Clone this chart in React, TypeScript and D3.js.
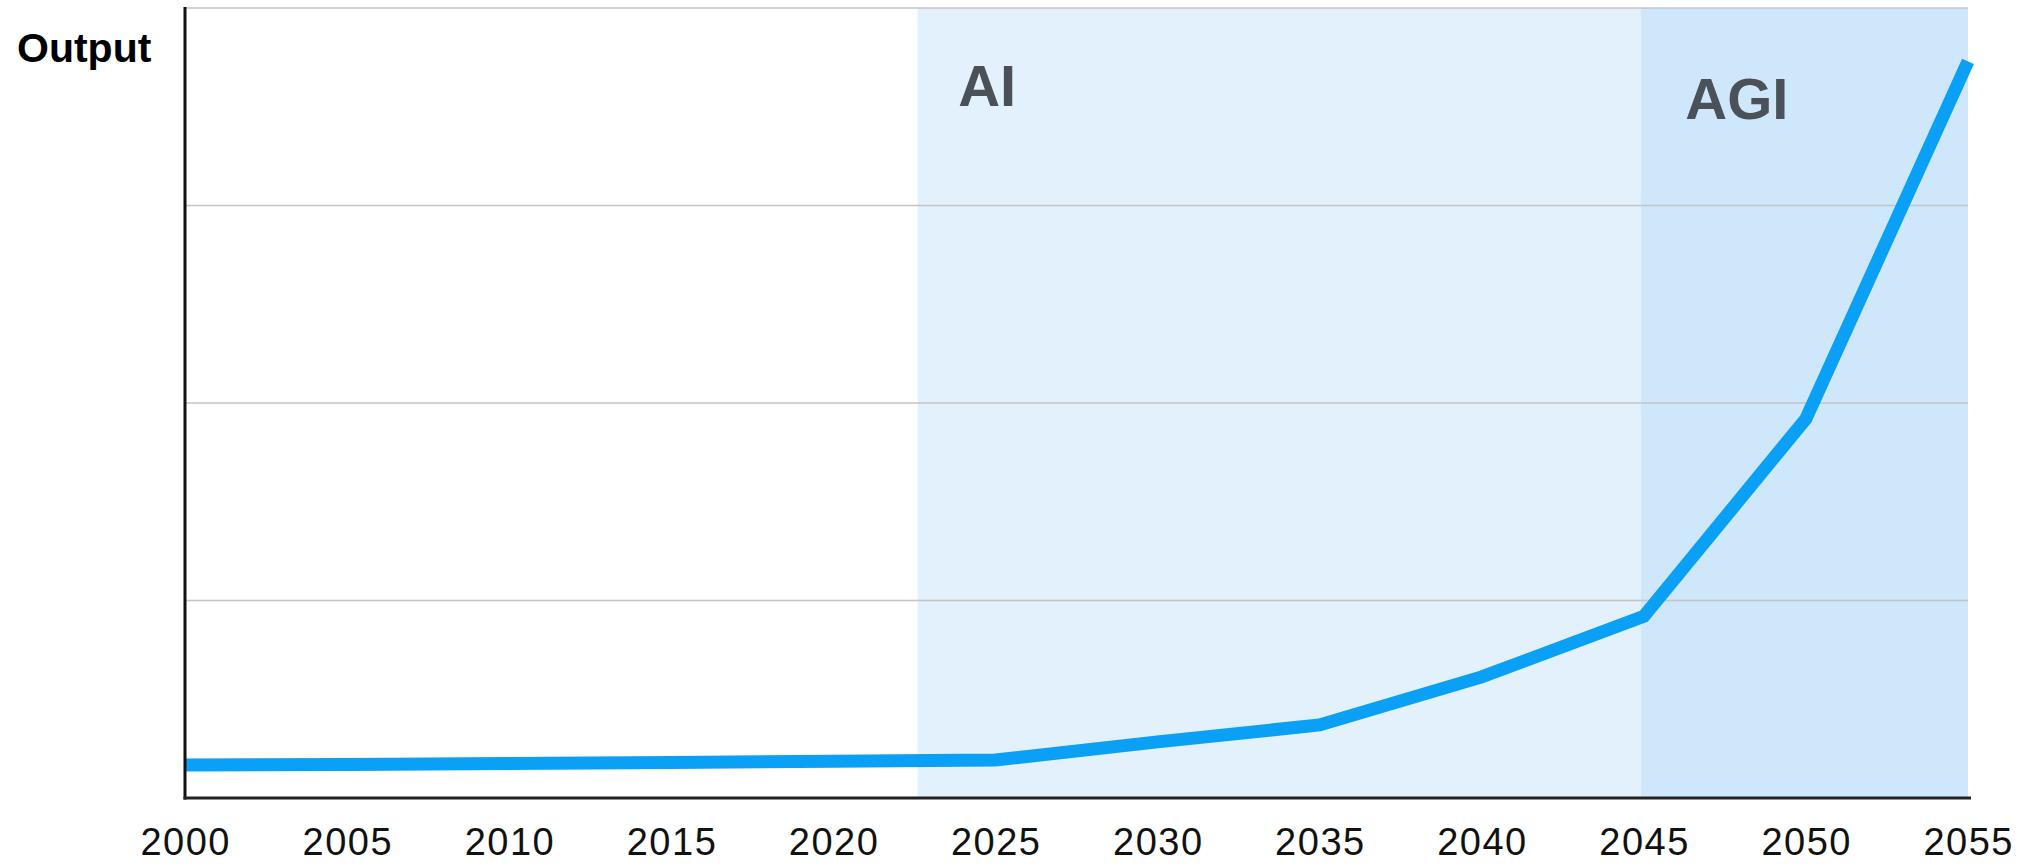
import React, { useEffect, useRef } from "react";
import * as d3 from "d3";

const years = [2000, 2005, 2010, 2015, 2020, 2025, 2030, 2035, 2040, 2045, 2050, 2055];
const output = [0.167, 0.17, 0.175, 0.18, 0.186, 0.192, 0.284, 0.37, 0.613, 0.92, 1.92, 3.73];
const xTicks = [2000, 2005, 2010, 2015, 2020, 2025, 2030, 2035, 2040, 2045, 2050, 2055];
const yGrid = [1, 2, 3, 4];
const bands = [
  { label: "AI", start: 2022.6, end: 2044.9, fill: "#e3f1fd" },
  { label: "AGI", start: 2044.9, end: 2055, fill: "#cfe7fb" },
];

const W = 2034;
const H = 864;
const M = { left: 185, right: 2034 - 1968, top: 8, bottom: 864 - 798 };

export default function App() {
  const ref = useRef<SVGSVGElement>(null);
  useEffect(() => {
    const svg = d3.select(ref.current);
    svg.selectAll("*").remove();
    const x = d3.scaleLinear().domain([2000, 2055]).range([M.left, W - M.right]);
    const y = d3.scaleLinear().domain([0, 4]).range([H - M.bottom, M.top]);
    const font = "'Liberation Sans', Arial, Helvetica, sans-serif";

    // bands
    svg.append("g").selectAll("rect").data(bands).join("rect")
      .attr("x", (d) => x(d.start))
      .attr("width", (d) => x(d.end) - x(d.start))
      .attr("y", y(4))
      .attr("height", y(0) - y(4))
      .attr("fill", (d) => d.fill);

    // gridlines
    svg.append("g").selectAll("line").data(yGrid).join("line")
      .attr("x1", x(2000)).attr("x2", x(2055))
      .attr("y1", (d) => y(d)).attr("y2", (d) => y(d))
      .attr("stroke", "#c4c4c4").attr("stroke-width", 1.5);

    // band labels
    const labelPos = [
      { x: x(2023.85), y: 106 },
      { x: x(2046.28), y: 119 },
    ];
    svg.append("g").selectAll("text").data(bands).join("text")
      .attr("x", (_d, i) => labelPos[i].x)
      .attr("y", (_d, i) => labelPos[i].y)
      .attr("font-family", font)
      .attr("font-weight", "bold")
      .attr("font-size", 58)
      .attr("fill", "#4a5159")
      .text((d) => d.label);

    // line
    const line = d3.line<number>().x((_d, i) => x(years[i])).y((d) => y(d));
    svg.append("path").datum(output)
      .attr("d", line)
      .attr("fill", "none")
      .attr("stroke", "#0aa0f6")
      .attr("stroke-width", 13)
      .attr("stroke-linejoin", "miter");

    // axes
    svg.append("line")
      .attr("x1", x(2000)).attr("x2", x(2000))
      .attr("y1", y(4) - 1).attr("y2", y(0) + 1.5)
      .attr("stroke", "#111").attr("stroke-width", 3);
    svg.append("line")
      .attr("x1", x(2000) - 1.5).attr("x2", x(2055) + 3)
      .attr("y1", y(0)).attr("y2", y(0))
      .attr("stroke", "#222").attr("stroke-width", 3);

    // x tick labels
    svg.append("g").selectAll("text").data(xTicks).join("text")
      .attr("x", (d) => x(d) + 0.75)
      .attr("y", 855)
      .attr("text-anchor", "middle")
      .attr("font-family", font)
      .attr("font-size", 38)
      .attr("letter-spacing", 1.5)
      .attr("fill", "#111")
      .text((d) => String(d));

    // y label
    svg.append("text")
      .attr("x", 17).attr("y", 62)
      .attr("font-family", font)
      .attr("font-weight", "bold")
      .attr("font-size", 41)
      .attr("fill", "#000")
      .text("Output");
  }, []);
  return (
    <svg
      ref={ref}
      width={W}
      height={H}
      style={{ position: "absolute", left: 0, top: 0, background: "#fff" }}
    />
  );
}
